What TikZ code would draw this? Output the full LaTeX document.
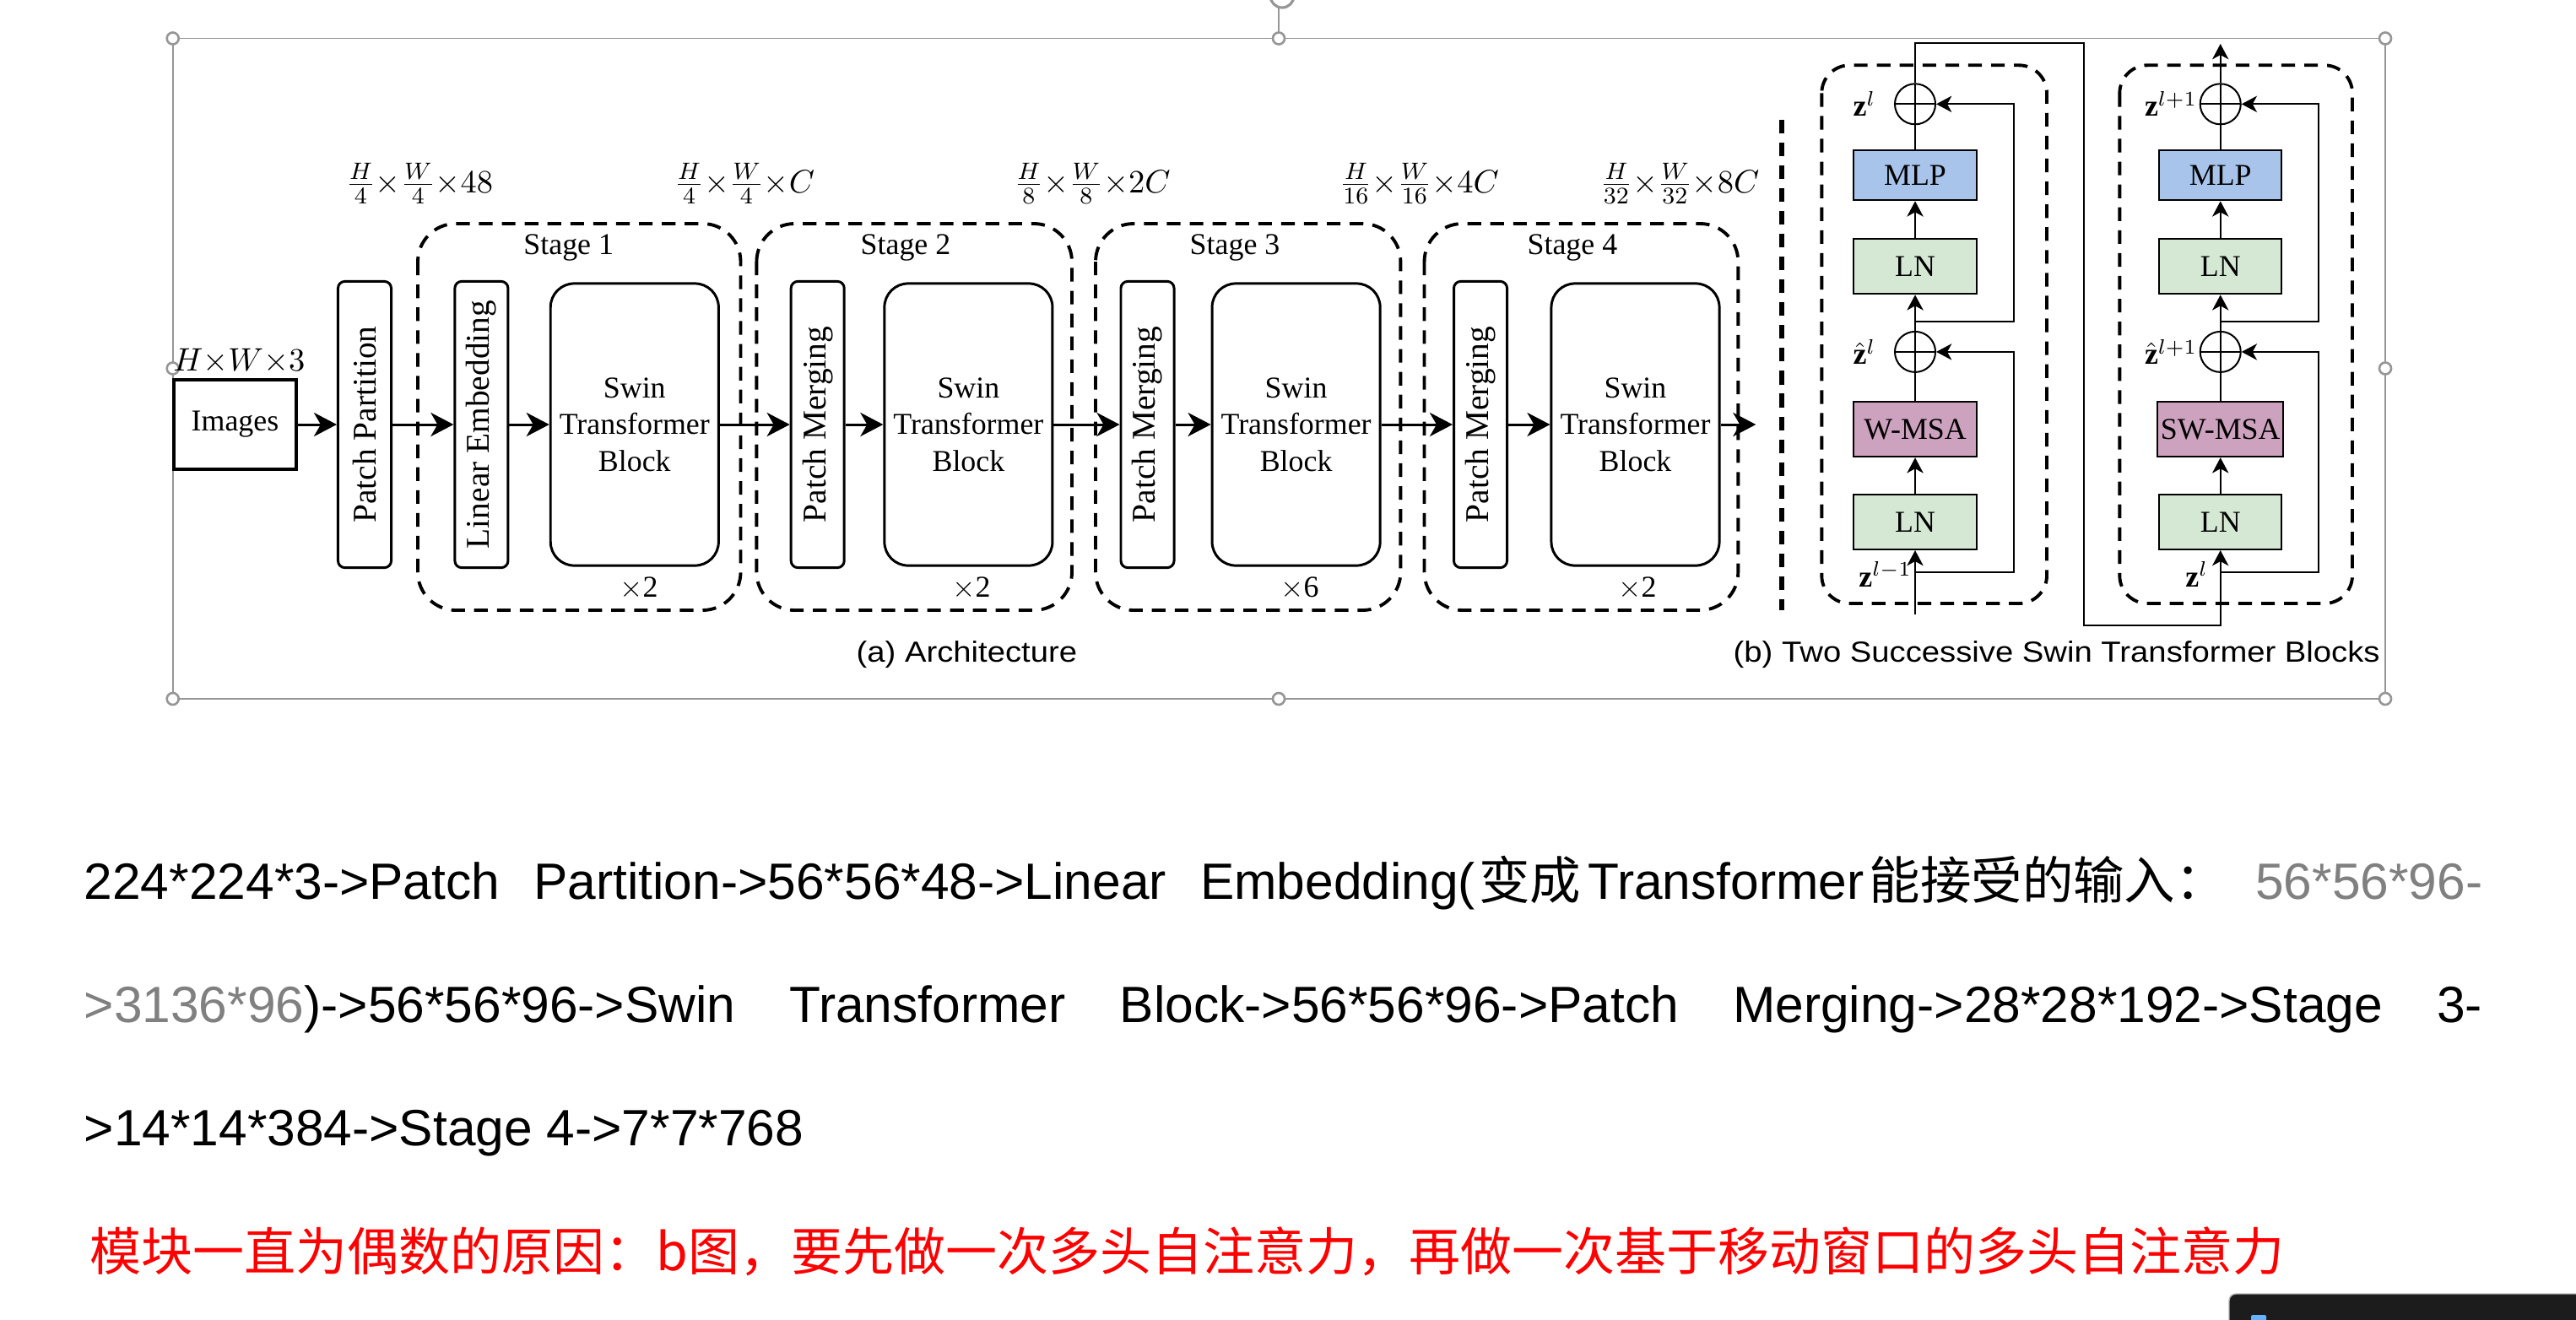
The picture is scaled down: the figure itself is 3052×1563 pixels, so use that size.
\documentclass[tikz,border=0pt]{standalone}
\usepackage{fontspec}
\usepackage{amsmath}
\setmainfont{Liberation Serif}
\newfontfamily\sansfam{Liberation Sans}
\newfontfamily\cjk{Noto Sans CJK SC}
\usetikzlibrary{arrows.meta}
\definecolor{mlpblue}{RGB}{169,196,235}
\definecolor{lngreen}{RGB}{213,232,212}
\definecolor{msapink}{RGB}{205,162,190}
\definecolor{framegray}{RGB}{150,150,150}
\definecolor{taskdark}{RGB}{28,28,28}

\begin{document}
\begin{tikzpicture}[x=0.01cm,y=-0.01cm,
 fig/.style={font=\fontsize{10.2}{12.4}\selectfont},
 tall/.style={draw,line width=0.85pt,rounded corners=2.3pt,minimum width=0.63cm,
  minimum height=3.39cm,inner sep=0pt,font=\fontsize{11.2}{13}\selectfont},
 swin/.style={draw,line width=0.85pt,rounded corners=8pt,minimum width=1.99cm,
  minimum height=3.34cm,inner sep=0pt,align=center,fig},
 stagebox/.style={line width=1.1pt,dash pattern=on 4.6pt off 3.1pt,rounded corners=0.45cm},
 flow/.style={line width=0.85pt,-{Stealth[length=7.7pt,width=8pt,inset=2.3pt]}},
 link/.style={line width=0.57pt,-{Stealth[length=5.2pt,width=5.5pt,inset=1.5pt]}},
 op/.style={draw,line width=0.57pt,minimum width=1.45cm,minimum height=0.65cm,inner sep=1pt,fig},
 add/.style={draw,circle,line width=0.57pt,minimum size=0.48cm,inner sep=0pt,
  path picture={\draw[line width=0.57pt] (path picture bounding box.north) -- (path picture bounding box.south)
  (path picture bounding box.west) -- (path picture bounding box.east);}},
 dims/.style={font=\fontsize{11.2}{13}\selectfont},
 para/.style={anchor=base west,inner sep=0pt,font=\sansfam\fontsize{17.2}{20}\selectfont}]
 \useasboundingbox (0,0) rectangle (3052,1563);

 \draw[framegray,line width=0.5pt] (204.7,45.5) rectangle (2826,828);
 \draw[framegray,line width=0.5pt] (1515,38) -- (1515,10);
 \draw[framegray,line width=0.9pt] (1519,-5) circle (0.14cm);
 \foreach \hx/\hy in {204.7/45.5,1515/45.5,2826/45.5,204.7/436.5,2826/436.5,204.7/828,1515/828,2826/828}
  \draw[framegray,line width=0.75pt,fill=white] (\hx,\hy) circle (0.07cm);

 \node[draw,line width=0.95pt,minimum width=1.45cm,minimum height=1.06cm,inner sep=0pt,fig] (img) at (278.5,503) {Images};
 \node[font=\fontsize{10.5}{12}\selectfont,anchor=base,inner sep=0pt] (hw) at (283.3,439) {$H{\times}W{\times}3$};
 \node[tall] (pp) at (432,503) {\rotatebox{90}{Patch Partition}};

 \draw[stagebox] (495,265) rectangle (877.5,723);
 \draw[stagebox] (896.4,265) rectangle (1270,723);
 \draw[stagebox] (1298,265) rectangle (1659.4,723);
 \draw[stagebox] (1687.5,265) rectangle (2059.3,723);

 \node[tall] (le) at (570.4,503) {\rotatebox{90}{Linear Embedding}};
 \node[swin] (sw1) at (751.8,503) {Swin\\Transformer\\Block};
 \node[tall] (pm2) at (968.7,503) {\rotatebox{90}{Patch Merging}};
 \node[swin] (sw2) at (1147.4,503) {Swin\\Transformer\\Block};
 \node[tall] (pm3) at (1359.5,503) {\rotatebox{90}{Patch Merging}};
 \node[swin] (sw3) at (1535.6,503) {Swin\\Transformer\\Block};
 \node[tall] (pm4) at (1754,503) {\rotatebox{90}{Patch Merging}};
 \node[swin] (sw4) at (1937.5,503) {Swin\\Transformer\\Block};
 \coordinate (out1) at (2080.3,503);

 \node[fig,anchor=base] (st1) at (673.7,301.5) {Stage 1};
 \node[fig,anchor=base] (st2) at (1073,301.5) {Stage 2};
 \node[fig,anchor=base] (st3) at (1463,301.5) {Stage 3};
 \node[fig,anchor=base] (st4) at (1862.9,301.5) {Stage 4};
 \node[fig,anchor=base] (rep1) at (757,707) {$\times$2};
 \node[fig,anchor=base] (rep2) at (1150.8,707) {$\times$2};
 \node[fig,anchor=base] (rep3) at (1540,707) {$\times$6};
 \node[fig,anchor=base] (rep4) at (1940,707) {$\times$2};

 \node[dims] (d1) at (497,217.5) {$\frac{H}{4}{\times}\frac{W}{4}{\times}48$};
 \node[dims] (d2) at (882,217.5) {$\frac{H}{4}{\times}\frac{W}{4}{\times}C$};
 \node[dims] (d3) at (1294,217.5) {$\frac{H}{8}{\times}\frac{W}{8}{\times}2C$};
 \node[dims] (d4) at (1681.5,217.5) {$\frac{H}{16}{\times}\frac{W}{16}{\times}4C$};
 \node[dims] (d5) at (1990,217.5) {$\frac{H}{32}{\times}\frac{W}{32}{\times}8C$};

 \draw[flow] (img) -- (pp);
 \draw[flow] (pp) -- (le);
 \draw[flow] (le) -- (sw1);
 \draw[flow] (sw1) -- (pm2);
 \draw[flow] (pm2) -- (sw2);
 \draw[flow] (sw2) -- (pm3);
 \draw[flow] (pm3) -- (sw3);
 \draw[flow] (sw3) -- (pm4);
 \draw[flow] (pm4) -- (sw4);
 \draw[flow] (sw4) -- (out1);

 \node[anchor=base west,inner sep=0pt,font=\sansfam\fontsize{9.8}{12}\selectfont] (capa) at (1014,784)
  {\scalebox{1.11}[1]{(a) Architecture}};

 \draw[line width=1.7pt,dash pattern=on 4.6pt off 3.1pt] (2111,141.5) -- (2111,723);
 \draw[stagebox,rounded corners=0.33cm] (2158.3,77.3) rectangle (2425,715);
 \draw[stagebox,rounded corners=0.33cm] (2511.3,77.3) rectangle (2787,715);

 \node[add] (a1b) at (2269,123.3) {};
 \node[op,fill=mlpblue,minimum height=0.59cm] (mlp1) at (2269,207.8) {MLP};
 \node[op,fill=lngreen] (ln1b) at (2269,315.8) {LN};
 \node[add] (a1a) at (2269,416.9) {};
 \node[op,fill=msapink] (msa1) at (2269,508.7) {W-MSA};
 \node[op,fill=lngreen] (ln1a) at (2269,618.5) {LN};
 \coordinate (in1) at (2269,728);
 \coordinate (b1a) at (2269,678.3);
 \coordinate (b1b) at (2269,381.2);
 \coordinate (rx1) at (2385.7,0);

 \node[add] (a2b) at (2630.7,123.3) {};
 \node[op,fill=mlpblue,minimum height=0.59cm] (mlp2) at (2630.7,207.8) {MLP};
 \node[op,fill=lngreen] (ln2b) at (2630.7,315.8) {LN};
 \node[add] (a2a) at (2630.7,416.9) {};
 \node[op,fill=msapink] (msa2) at (2630.7,508.7) {SW-MSA};
 \node[op,fill=lngreen] (ln2a) at (2630.7,618.5) {LN};
 \coordinate (b2a) at (2630.7,678.3);
 \coordinate (b2b) at (2630.7,381.2);
 \coordinate (rx2) at (2746.9,0);
 \coordinate (out2) at (2630.7,52);

 \coordinate (T1) at (2269,50.5);
 \coordinate (T2) at (2469.3,50.5);
 \coordinate (T3) at (2469.3,740.5);
 \coordinate (T4) at (2630.7,740.5);

 \draw[link] (in1) -- (ln1a);
 \draw[link] (ln1a) -- (msa1);
 \draw[line width=0.57pt] (msa1) -- (a1a);
 \draw[link] (a1a) -- (ln1b);
 \draw[link] (ln1b) -- (mlp1);
 \draw[line width=0.57pt] (mlp1) -- (a1b);
 \draw[link] (b1a) -| (rx1 |- a1a) -- (a1a);
 \draw[link] (b1b) -| (rx1 |- a1b) -- (a1b);
 \draw[link] (a1b) -- (T1) -- (T2) -- (T3) -- (T4) -- (ln2a);
 \draw[link] (ln2a) -- (msa2);
 \draw[line width=0.57pt] (msa2) -- (a2a);
 \draw[link] (a2a) -- (ln2b);
 \draw[link] (ln2b) -- (mlp2);
 \draw[line width=0.57pt] (mlp2) -- (a2b);
 \draw[link] (b2a) -| (rx2 |- a2a) -- (a2a);
 \draw[link] (b2b) -| (rx2 |- a2b) -- (a2b);
 \draw[link] (a2b) -- (out2);

 \node[fig,anchor=east,inner sep=0pt] (z1) at (2223,123) {$\mathbf{z}^{l}$};
 \node[fig,anchor=east,inner sep=0pt] (zh1) at (2223,417) {$\hat{\mathbf{z}}^{l}$};
 \node[fig,anchor=base west,inner sep=0pt] (zin1) at (2201.7,695) {$\mathbf{z}^{l-1}$};
 \node[fig,anchor=east,inner sep=0pt] (z2) at (2604,123) {$\mathbf{z}^{l+1}$};
 \node[fig,anchor=east,inner sep=0pt] (zh2) at (2604,417) {$\hat{\mathbf{z}}^{l+1}$};
 \node[fig,anchor=base west,inner sep=0pt] (zin2) at (2588.7,695) {$\mathbf{z}^{l}$};

 \node[anchor=base west,inner sep=0pt,font=\sansfam\fontsize{9.8}{12}\selectfont] (capb) at (2053,784)
  {\scalebox{1.11}[1]{(b) Two Successive Swin Transformer Blocks}};

 \node[para] (p1) at (99,1065) {\makebox[28.4cm][l]{224*224*3->Patch\hspace{0.4cm}Partition->56*56*48->Linear\hspace{0.4cm}Embedding(\hspace{0.04cm}{\cjk 变成}\hspace{0.08cm}Transformer\hspace{0.06cm}{\cjk 能接受的输入：}\hfill\textcolor{gray}{56*56*96-}}};
 \node[para] (p2) at (99,1211) {\makebox[28.4cm][s]{\textcolor{gray}{>3136*96})->56*56*96->Swin Transformer Block->56*56*96->Patch Merging->28*28*192->Stage 3-}};
 \node[para] (p3) at (99,1357) {>14*14*384->Stage 4->7*7*768};
 \node[anchor=base west,inner sep=0pt,text=red,font=\cjk\fontsize{17.35}{20}\selectfont] (p4) at (106,1505)
  {模块一直为偶数的原因：b图，要先做一次多头自注意力，再做一次基于移动窗口的多头自注意力};

 \fill[taskdark,rounded corners=0.08cm] (2641,1533) rectangle (3100,1620);
 \draw[black!30,line width=0.4pt,rounded corners=0.08cm] (3100,1533) -- (2641,1533) -- (2641,1620);
 \fill[blue!50!cyan!60!white,rounded corners=0.02cm] (2667,1558) rectangle (2685,1580);
\end{tikzpicture}
\end{document}
